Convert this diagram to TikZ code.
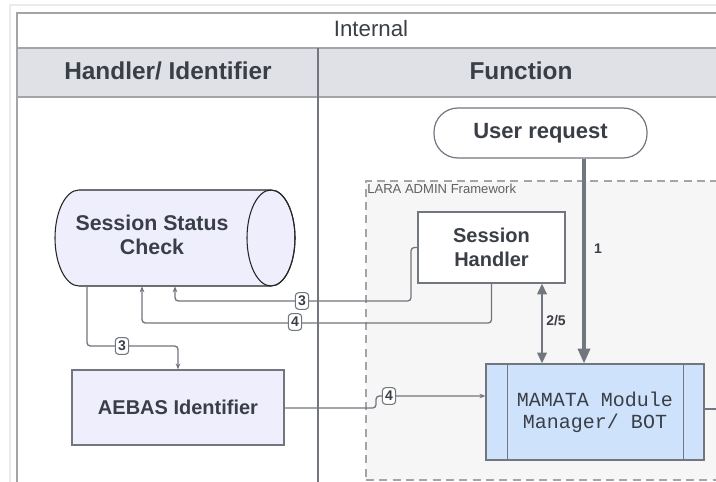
\documentclass[tikz,border=0pt]{standalone}
\usepackage{fontspec}
\setmainfont{Liberation Sans}
\setmonofont{Liberation Mono}
\usetikzlibrary{arrows.meta,calc}
\definecolor{txt}{HTML}{3A3F47}
\definecolor{ln}{HTML}{72767E}
\definecolor{frame}{HTML}{A3A5A9}
\definecolor{hdr}{HTML}{DFE1E6}
\definecolor{lav}{HTML}{EEEEFC}
\definecolor{blu}{HTML}{CFE2FC}
\definecolor{fw}{HTML}{F6F6F6}
\tikzset{
  boxnode/.style={draw=ln, line width=0.9pt, text=txt, font=\bfseries\fontsize{15}{16.5}\selectfont, align=center, inner sep=0pt},
  conn/.style={draw=ln, line width=1pt, rounded corners=2.5pt},
  smalltip/.style={-{Stealth[length=4.5pt,width=3.5pt]}},
  tag/.style={draw=ln, fill=white, rounded corners=2.5pt, line width=0.8pt, font=\bfseries\fontsize{10.5}{10.5}\selectfont, text=txt, inner sep=0pt, minimum width=10pt, minimum height=12.5pt},
  numlab/.style={font=\bfseries\fontsize{10.5}{10.5}\selectfont, text=txt},
  hdrtext/.style={font=\bfseries\fontsize{18.3}{18.3}\selectfont, text=txt}
}
\begin{document}
\begin{tikzpicture}[x=0.75pt,y=-0.75pt]
\useasboundingbox (0,0) rectangle (716,481);
\clip (0,0) rectangle (716,481);
\fill[white] (0,0) rectangle (716,481);
% faint page border
\draw[black!8, line width=1pt] (10,490) -- (10,5) -- (730,5);
% table
\fill[hdr] (17,48) rectangle (730,97);
\draw[frame, line width=1.2pt] (17,500) -- (17,13) -- (730,13);
\draw[frame, line width=1.2pt] (17,48) -- (730,48);
\draw[frame, line width=1.2pt] (17,97) -- (730,97);
\draw[ln, line width=0.9pt] (318,48) -- (318,500);
\node[font=\fontsize{16.7}{16.7}\selectfont, text=txt] (internal) at (371,29) {Internal};
\node[hdrtext] (hhandler) at (168,71) {Handler/ Identifier};
\node[hdrtext] (hfunction) at (521,71) {Function};
% framework
\fill[fw] (366,181) rectangle (730,480);
\draw[frame, line width=1pt, dash pattern=on 6pt off 4pt] (366,490) -- (366,181) -- (730,181);
\draw[frame, line width=1pt, dash pattern=on 6pt off 4pt] (366,480) -- (730,480);
\node[anchor=north west, inner sep=0pt, font=\fontsize{9.8}{9.8}\selectfont, text=black!62] (fwlab) at (367,184) {LARA ADMIN Framework};
% user request
\node[boxnode, fill=white, rounded corners=18pt, minimum width=159.75pt, minimum height=37.5pt, font=\bfseries\fontsize{16.5}{16.5}\selectfont] (user) at (540.5,133) {User request};
% session handler
\node[boxnode, fill=white, minimum width=110.25pt, minimum height=53.25pt] (sh) at (491.5,247.5) {Session\\[1pt]Handler};
% mamata
\node[boxnode, fill=blu, minimum width=163.5pt, minimum height=72pt, font=\ttfamily\fontsize{15}{16.5}\selectfont] (mm) at (595,412) {MAMATA Module\\Manager/ BOT};
\draw[ln, line width=0.9pt] ($(mm.north west)+(22,0)$) -- ($(mm.south west)+(22,0)$);
\draw[ln, line width=0.9pt] ($(mm.north east)+(-21,0)$) -- ($(mm.south east)+(-21,0)$);
% AEBAS
\node[boxnode, fill=lav, minimum width=159pt, minimum height=56.25pt] (aebas) at (178,407.5) {AEBAS Identifier};
% cylinder
\node[minimum width=180pt, minimum height=72pt, inner sep=0pt] (ssc) at (175,238) {};
\filldraw[fill=lav, draw=black!85, line width=0.8pt] (79,190) -- (271,190) arc(-90:90:24 and 48) -- (79,286) arc(90:270:24 and 48) -- cycle;
\draw[black!85, line width=0.8pt] (271,238) ellipse (24 and 48);
\node[text=txt, font=\bfseries\fontsize{16}{17.5}\selectfont, align=center] (ssctext) at (152,235) {Session Status\\Check};
% coordinates
\coordinate (c1) at (584,0);
\coordinate (c25) at (542,0);
\coordinate (c3a) at (175,0);
\coordinate (c4a) at (142,0);
\coordinate (c3b) at (87,0);
\coordinate (r301) at (0,301);
\coordinate (r323) at (0,323);
\coordinate (r346) at (0,346);
\coordinate (r408) at (0,408);
\coordinate (r396) at (0,396);
\coordinate (r409) at (0,409);
% connector 1
\draw[ln, line width=2.4pt, -{Triangle[length=11pt,width=9pt]}] (user.south -| c1) -- (mm.north -| c1);
\node[numlab] (l1) at (598,249) {1};
% connector 2/5
\draw[ln, line width=1.6pt, {Triangle[length=8pt,width=7pt]}-{Triangle[length=8pt,width=7pt]}] (sh.south -| c25) -- (mm.north -| c25);
\node[numlab] (l25) at (556,321) {2/5};
% connector 3 from session handler
\draw[conn, smalltip] (sh.west) -- (411,247.5) -- (411,301) -- (r301 -| c3a) -- (ssc.south -| c3a);
\node[tag] (t3a) at (302,301) {3};
% connector 4 from session handler
\draw[conn, smalltip] (sh.south) -- (sh.south |- r323) -- (r323 -| c4a) -- (ssc.south -| c4a);
\node[tag] (t4a) at (295,322) {4};
% connector 3 to AEBAS
\draw[conn, smalltip] (ssc.south -| c3b) -- (r346 -| c3b) -- (r346 -| aebas.north) -- (aebas.north);
\node[tag] (t3b) at (122,346) {3};
% connector 4 to MAMATA
\draw[conn, smalltip] (aebas.east |- r408) -- (376,408) -- (376,396) -- (mm.west |- r396);
\node[tag] (t4b) at (389,396) {4};
% out line
\draw[ln, line width=1pt] (mm.east |- r409) -- (730,409);
\end{tikzpicture}
\end{document}
